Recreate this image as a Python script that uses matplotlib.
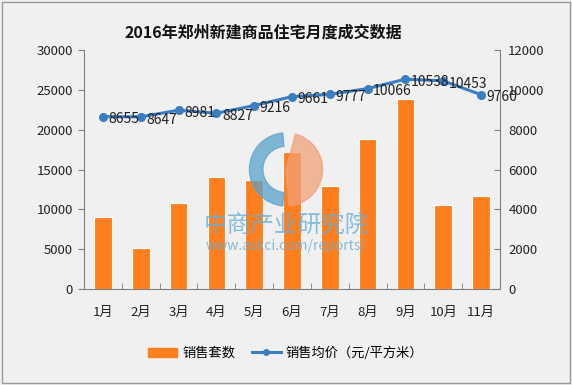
import matplotlib
matplotlib.use("Agg")
import matplotlib.pyplot as plt
from matplotlib.patches import Rectangle, Wedge
import numpy as np

plt.rcParams['font.family'] = ['Noto Sans CJK SC', 'DejaVu Sans']

months = ['1月', '2月', '3月', '4月', '5月', '6月', '7月', '8月', '9月', '10月', '11月']
sales_units = [9100, 5100, 10800, 14100, 13700, 17200, 12900, 18900, 23800, 10600, 11700]
avg_price = [8655, 8647, 8981, 8827, 9216, 9661, 9777, 10066, 10538, 10453, 9760]
title = '2016年郑州新建商品住宅月度成交数据'
bar_label = '销售套数'
line_label = '销售均价（元/平方米）'

bar_color = '#FF7F1E'
line_color = '#3A7DC0'
txt = '#222222'

fig = plt.figure(figsize=(5.72, 3.85), dpi=100)
fig.patch.set_facecolor('#F0F0F0')
fig.add_artist(Rectangle((0.004, 0.004), 0.992, 0.992, transform=fig.transFigure,
                         fill=False, edgecolor='#9A9A9A', linewidth=1.0))

ax = fig.add_axes([0.147, 0.249, 0.727, 0.621])
ax.set_facecolor('none')
x = np.arange(len(months))
ax.bar(x, sales_units, width=0.47, color=bar_color, edgecolor='white', linewidth=0.8, zorder=2)
ax.set_ylim(0, 30000)
ax.set_yticks(np.arange(0, 30001, 5000))
ax.set_xlim(-0.5, len(months) - 0.5)
ax.set_xticks(x)
ax.set_xticklabels(months)
ax.set_xticks(np.arange(-0.5, len(months), 1), minor=True)
ax.tick_params(axis='x', which='major', length=0, pad=12, labelsize=9.5, colors=txt)
ax.tick_params(axis='x', which='minor', length=4, direction='in', color='#808080')
ax.tick_params(axis='y', length=4, direction='out', color='#808080', labelsize=9.5, labelcolor=txt, pad=4)
for s in ['top', 'right']:
    ax.spines[s].set_visible(False)
for s in ['left', 'bottom']:
    ax.spines[s].set_color('#808080')

ax2 = ax.twinx()
ax2.plot(x, avg_price, color=line_color, linewidth=2.2, marker='o', markersize=5.5, zorder=3)
ax2.set_ylim(0, 12000)
ax2.set_yticks(np.arange(0, 12001, 2000))
ax2.tick_params(axis='y', length=4, direction='in', color='#808080', labelsize=9.5, labelcolor=txt, pad=6)
for s in ['top', 'left', 'bottom']:
    ax2.spines[s].set_visible(False)
ax2.spines['right'].set_color('#808080')
for xi, v in zip(x, avg_price):
    ax2.annotate(str(v), (xi, v), xytext=(4, -2), textcoords='offset points',
                 ha='left', va='center', fontsize=10, color=txt, zorder=4)

# watermark
wm_ax = fig.add_axes([0.40, 0.46, 0.2, 0.2])
wm_ax.set_xlim(-1, 1); wm_ax.set_ylim(-1, 1); wm_ax.set_aspect('equal'); wm_ax.axis('off')
wm_ax.add_patch(Wedge((0, 0), 0.95, 95, 265, width=0.35, color='#5BA3CC', alpha=0.75))
wm_ax.add_patch(Wedge((0, 0), 0.95, -85, 75, color='#F0A07A', alpha=0.75))
fig.text(0.5, 0.416, '中商产业研究院', ha='center', va='center', fontsize=17, color='#6AAED6', alpha=0.8)
fig.text(0.5, 0.362, 'www.askci.com/reports/', ha='center', va='center', fontsize=10, color='#6AAED6', alpha=0.8)

fig.text(0.46, 0.915, title, ha='center', va='center', fontsize=11.5, fontweight='bold', color='#111111')

h1 = Rectangle((0, 0), 1, 1, color=bar_color)
h2 = plt.Line2D([], [], color=line_color, linewidth=2.2, marker='o', markersize=4)
fig.legend([h1, h2], [bar_label, line_label], loc='center', bbox_to_anchor=(0.5, 0.082),
           ncol=2, frameon=False, fontsize=9.5, handlelength=2.2, columnspacing=1.2, handletextpad=0.4)

fig.savefig('out.png', dpi=100, facecolor=fig.get_facecolor())
